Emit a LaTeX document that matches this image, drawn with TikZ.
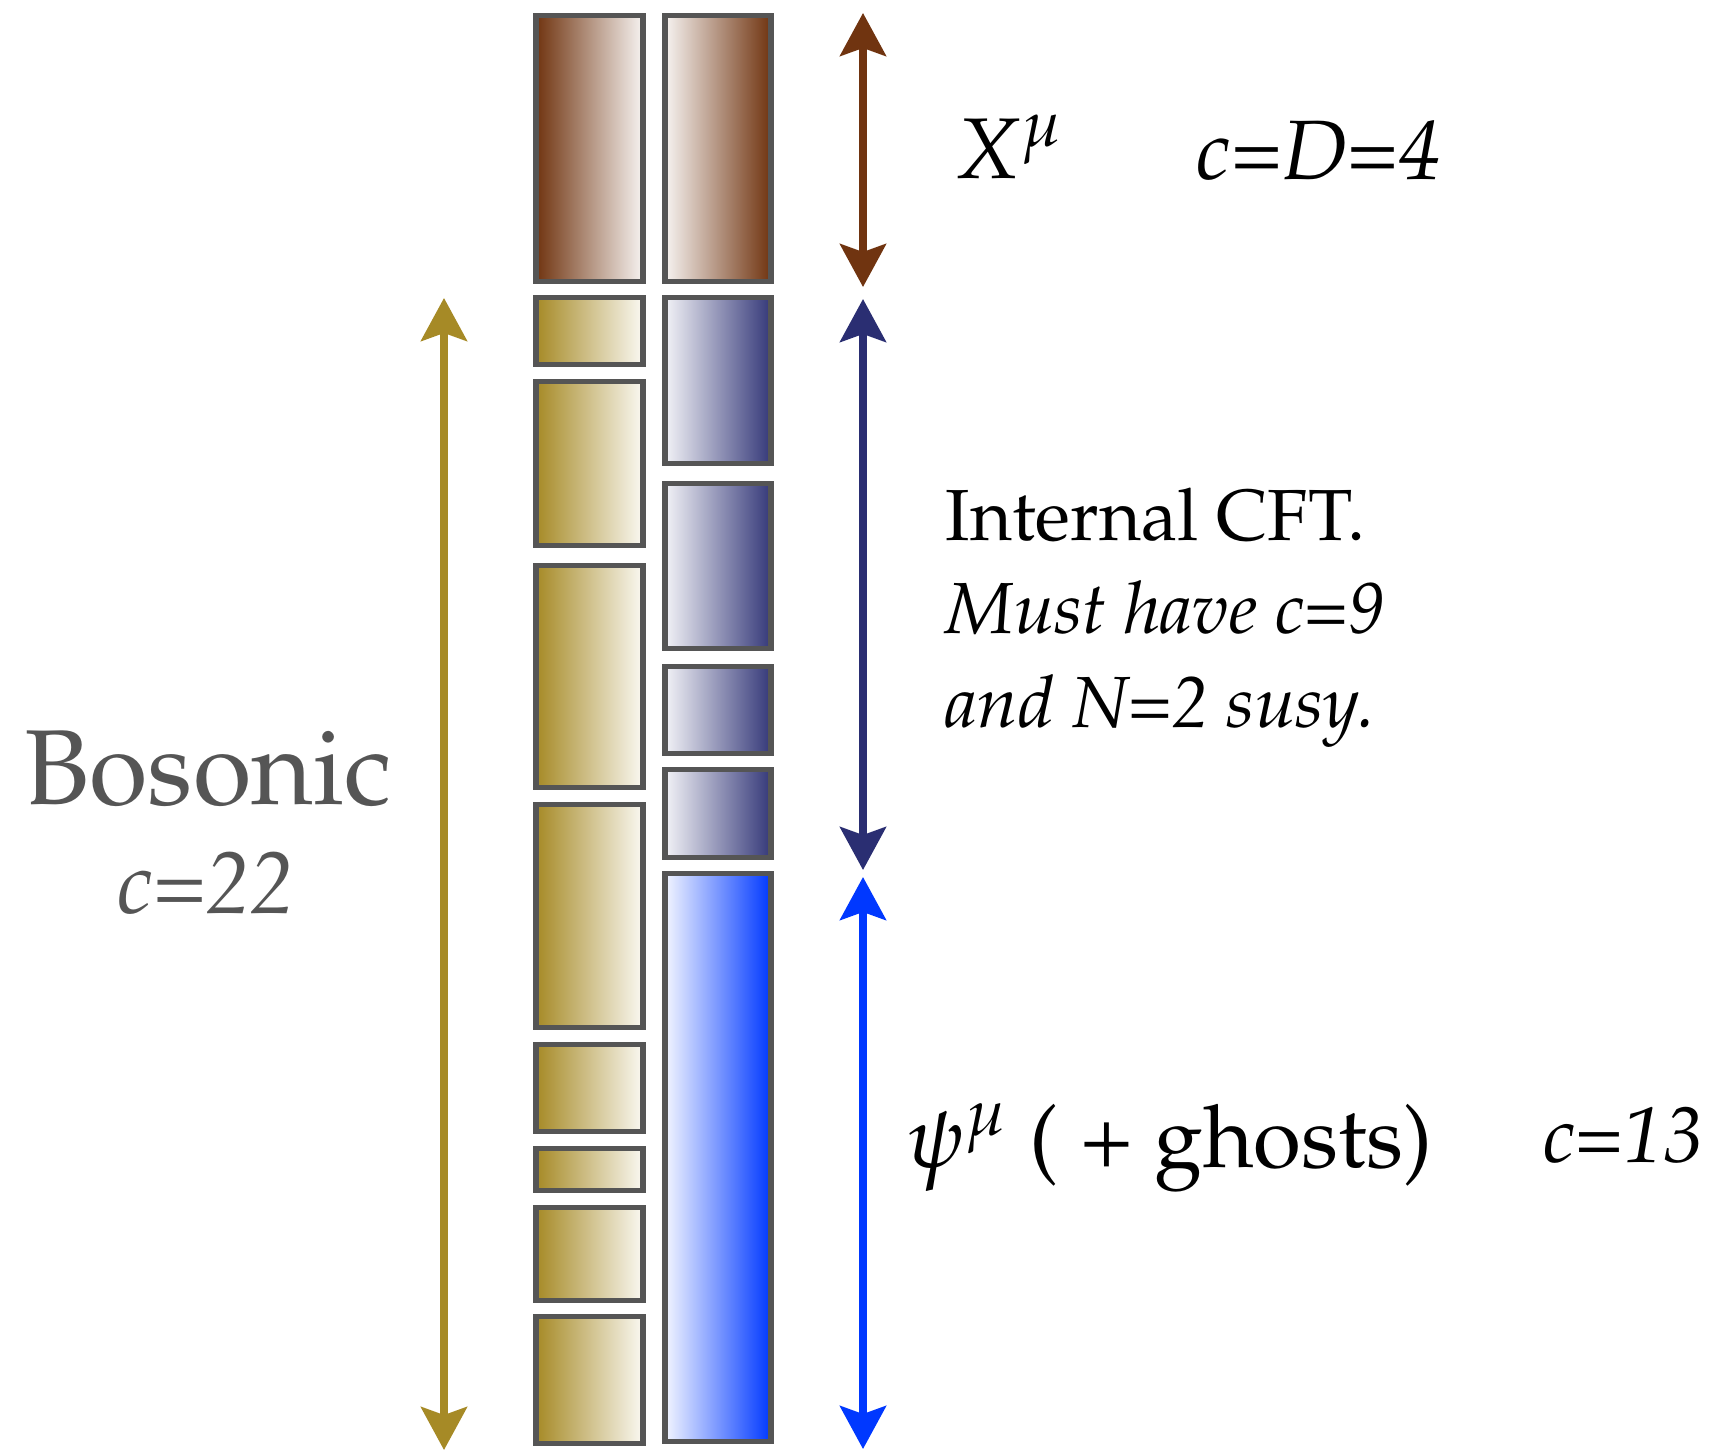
\documentclass[tikz,border=0pt]{standalone}
\usepackage[T1]{fontenc}
\usepackage{mathpazo}
\usepackage{xcolor}
\usetikzlibrary{arrows.meta}

\definecolor{xbrown}{RGB}{112,52,16}
\definecolor{cftnavy}{RGB}{42,46,114}
\definecolor{psiblue}{RGB}{0,56,255}
\definecolor{bosgold}{RGB}{166,138,38}
\definecolor{boxgray}{RGB}{85,85,85}

\begin{document}
\begin{tikzpicture}[x=1cm, y=-1cm,
        cell/.style={draw=boxgray, line width=1.45pt},
        xcellL/.style={cell, left color=xbrown, right color=xbrown!6},
        xcellR/.style={cell, left color=xbrown!6, right color=xbrown},
        goldcell/.style={cell, left color=bosgold, right color=bosgold!6},
        cftcell/.style={cell, left color=cftnavy!6, right color=cftnavy!95},
        psicell/.style={cell, left color=psiblue!5, right color=psiblue},
        span/.style={line width=2pt,
            {Stealth[length=0.43cm, width=0.46cm, inset=0.08cm]}-{Stealth[length=0.43cm, width=0.46cm, inset=0.08cm]}},
        big/.style={font=\fontsize{24.5}{28}\selectfont},
    ]
    \useasboundingbox (0,0) rectangle (17.29,14.52);

    % left column
    \shadedraw[xcellL] (5.36,0.155) rectangle (6.43,2.815);
    \foreach \t/\b in {2.975/3.645, 3.815/5.455, 5.655/7.875, 8.045/10.275,
                       10.445/11.315, 11.485/11.905, 12.075/13.005, 13.165/14.435}
        \shadedraw[goldcell] (5.36,\t) rectangle (6.43,\b);

    % right column
    \shadedraw[xcellR] (6.65,0.155) rectangle (7.71,2.815);
    \foreach \t/\b in {2.975/4.635, 4.835/6.485, 6.665/7.535, 7.695/8.575}
        \shadedraw[cftcell] (6.65,\t) rectangle (7.71,\b);
    \shadedraw[psicell] (6.65,8.735) rectangle (7.71,14.415);

    % spans
    \coordinate (xtop) at (8.63,0.13);
    \coordinate (xbot) at (8.63,2.87);
    \coordinate (cfttop) at (8.63,2.99);
    \coordinate (cftbot) at (8.63,8.70);
    \coordinate (psitop) at (8.63,8.77);
    \coordinate (psibot) at (8.63,14.49);
    \coordinate (bostop) at (4.44,2.98);
    \coordinate (bosbot) at (4.44,14.50);
    \draw[span, xbrown] (xtop) -- (xbot);
    \draw[span, cftnavy] (cfttop) -- (cftbot);
    \draw[span, psiblue] (psitop) -- (psibot);
    \draw[span, bosgold] (bostop) -- (bosbot);

    % labels
    \node[big, anchor=base west, inner sep=0pt] (xlabel) at (9.53,1.78) {$X^{\mu}$};
    \node[font=\fontsize{24}{28}\selectfont, anchor=base west, inner sep=0pt] (xcharge) at (11.96,1.79) {\textit{c=D=4}};

    \node[font=\fontsize{20.6}{24}\selectfont, anchor=base west, inner sep=0pt] (cft1) at (9.45,5.40) {Internal CFT.};
    \node[font=\fontsize{20.6}{24}\selectfont\itshape, anchor=base west, inner sep=0pt] (cft2) at (9.45,6.33) {Must have c=9};
    \node[font=\fontsize{20.6}{24}\selectfont\itshape, anchor=base west, inner sep=0pt] (cft3) at (9.45,7.27) {and N=2 susy.};

    \node[font=\fontsize{24.8}{30}\selectfont, anchor=base west, inner sep=0pt] (psilabel) at (9.06,11.67) {$\psi^{\mu}$\ ( + ghosts)};
    \node[font=\fontsize{22.5}{26}\selectfont\itshape, anchor=base west, inner sep=0pt] (psicharge) at (15.43,11.62) {c=13};

    \node[font=\fontsize{30.3}{34}\selectfont, text=boxgray, anchor=base west, inner sep=0pt] (boslabel) at (0.24,8.04) {Bosonic};
    \node[font=\fontsize{25}{28}\selectfont\itshape, text=boxgray, anchor=base west, inner sep=0pt] (boscharge) at (1.17,9.13) {c=22};
\end{tikzpicture}
\end{document}
